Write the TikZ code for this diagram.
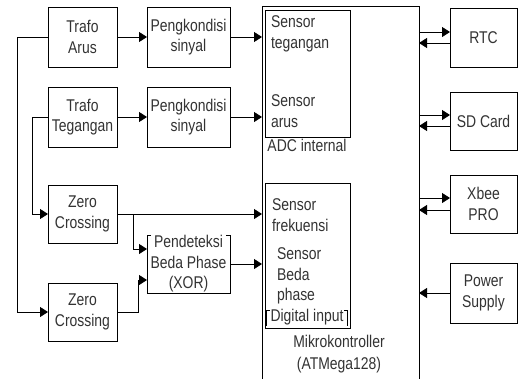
\documentclass[tikz,border=0pt]{standalone}
\usepackage{fontspec}
\setmainfont{Liberation Sans}[FakeStretch=0.82]
\usetikzlibrary{arrows.meta}
\begin{document}
\begin{tikzpicture}[x=1pt,y=-1pt,
  font=\fontsize{17}{20.5}\selectfont,
  blk/.style={draw, line width=0.9pt, inner sep=0pt, outer sep=0pt, align=center, text=black!80},
  plain/.style={inner sep=0pt, outer sep=0pt, text=black!80},
  arr/.style={line width=0.9pt, -{Triangle[length=8pt,width=10pt]}},
  ln/.style={line width=0.9pt}]
\clip (0,0) rectangle (518,378);
\fill[white] (0,0) rectangle (518,378);
% left column
\node[blk, minimum width=69pt, minimum height=60pt] (ta) at (82.5,37) {Trafo\\Arus};
\node[blk, minimum width=83pt, minimum height=60pt] (pk1) at (188.5,37) {Pengkondisi\\sinyal};
\node[blk, minimum width=69pt, minimum height=60pt] (tt) at (82.5,117) {Trafo\\Tegangan};
\node[blk, minimum width=83pt, minimum height=60pt] (pk2) at (188.5,117) {Pengkondisi\\sinyal};
\node[blk, minimum width=69pt, minimum height=58pt] (zc1) at (82.5,214) {Zero\\Crossing};
\node[blk, minimum width=69pt, minimum height=58pt] (zc2) at (82.5,312) {Zero\\Crossing};
\node[plain, align=center, minimum width=83pt, minimum height=58pt] (pd) at (188.5,264) {Pendeteksi\\Beda Phase\\(XOR)};
\draw[ln] (pd.north west) ++(4,0) -- (pd.north west) -- (pd.south west) -- (pd.south east) -- (pd.north east) -- ++(-4,0);
% microcontroller
\node[blk, minimum width=157pt, minimum height=389pt] (mcu) at (340.5,200.5) {};
\node[blk, minimum width=85pt, minimum height=127pt] (adc) at (307.5,73.5) {};
\node[blk, minimum width=85pt, minimum height=145pt] (dig) at (307.5,255.5) {};
\node[plain, anchor=west, align=left] (st) at (271,34) {Sensor\\tegangan};
\node[plain, anchor=west, align=left] (sa) at (271,111) {Sensor\\arus};
\node[plain] (adcl) at (307,145) {ADC internal};
\node[plain, anchor=west, align=left] (sf) at (272,215) {Sensor\\frekuensi};
\node[plain, anchor=west, align=left] (sb) at (277,276) {Sensor\\Beda\\phase};
\node[plain] (dl) at (307,317) {Digital input};
\draw[ln] (270,310) -- (266.5,310) -- (266.5,326);
\draw[ln] (344,310) -- (347.5,310) -- (347.5,326);
\node[plain, align=center, font=\fontsize{17}{21.5}\selectfont] (ml) at (339,354) {Mikrokontroller\\(ATMega128)};
% right column
\node[blk, minimum width=67pt, minimum height=59pt] (rtc) at (483.5,37.5) {RTC};
\node[blk, minimum width=67pt, minimum height=58pt] (sd) at (483.5,121) {SD Card};
\node[blk, minimum width=67pt, minimum height=58pt] (xb) at (483.5,204) {Xbee\\PRO};
\node[blk, minimum width=67pt, minimum height=60pt] (ps) at (483.5,293) {Power\\Supply};
% connectors left
\draw[arr] (ta.east) -- (pk1.west);
\draw[arr] (tt.east) -- (pk2.west);
\draw[arr] (pk1.east) -- (pk1.east -| mcu.west);
\draw[arr] (pk2.east) -- (pk2.east -| mcu.west);
\draw[arr] (ta.west) -- ++(-31,0) |- (zc2.west);
\draw[arr] (tt.west) -- ++(-16,0) |- (zc1.west);
\draw[arr] (zc1.east) -- (zc1.east -| mcu.west);
\draw[arr] (zc1.east) ++(16,0) |- (pd.west |- 0,249);
\draw[arr] (zc2.east) -- ++(21,0) |- (pd.west |- 0,280);
\draw[arr] (pd.east) -- (pd.east -| mcu.west);
% connectors right
\draw[arr] (mcu.east |- 0,32) -- (rtc.west |- 0,32);
\draw[arr] (rtc.west |- 0,43) -- (mcu.east |- 0,43);
\draw[arr] (mcu.east |- 0,115) -- (sd.west |- 0,115);
\draw[arr] (sd.west |- 0,126) -- (mcu.east |- 0,126);
\draw[arr] (mcu.east |- 0,198) -- (xb.west |- 0,198);
\draw[arr] (xb.west |- 0,210) -- (mcu.east |- 0,210);
\draw[arr] (ps.west) -- (ps.west -| mcu.east);
\end{tikzpicture}
\end{document}
